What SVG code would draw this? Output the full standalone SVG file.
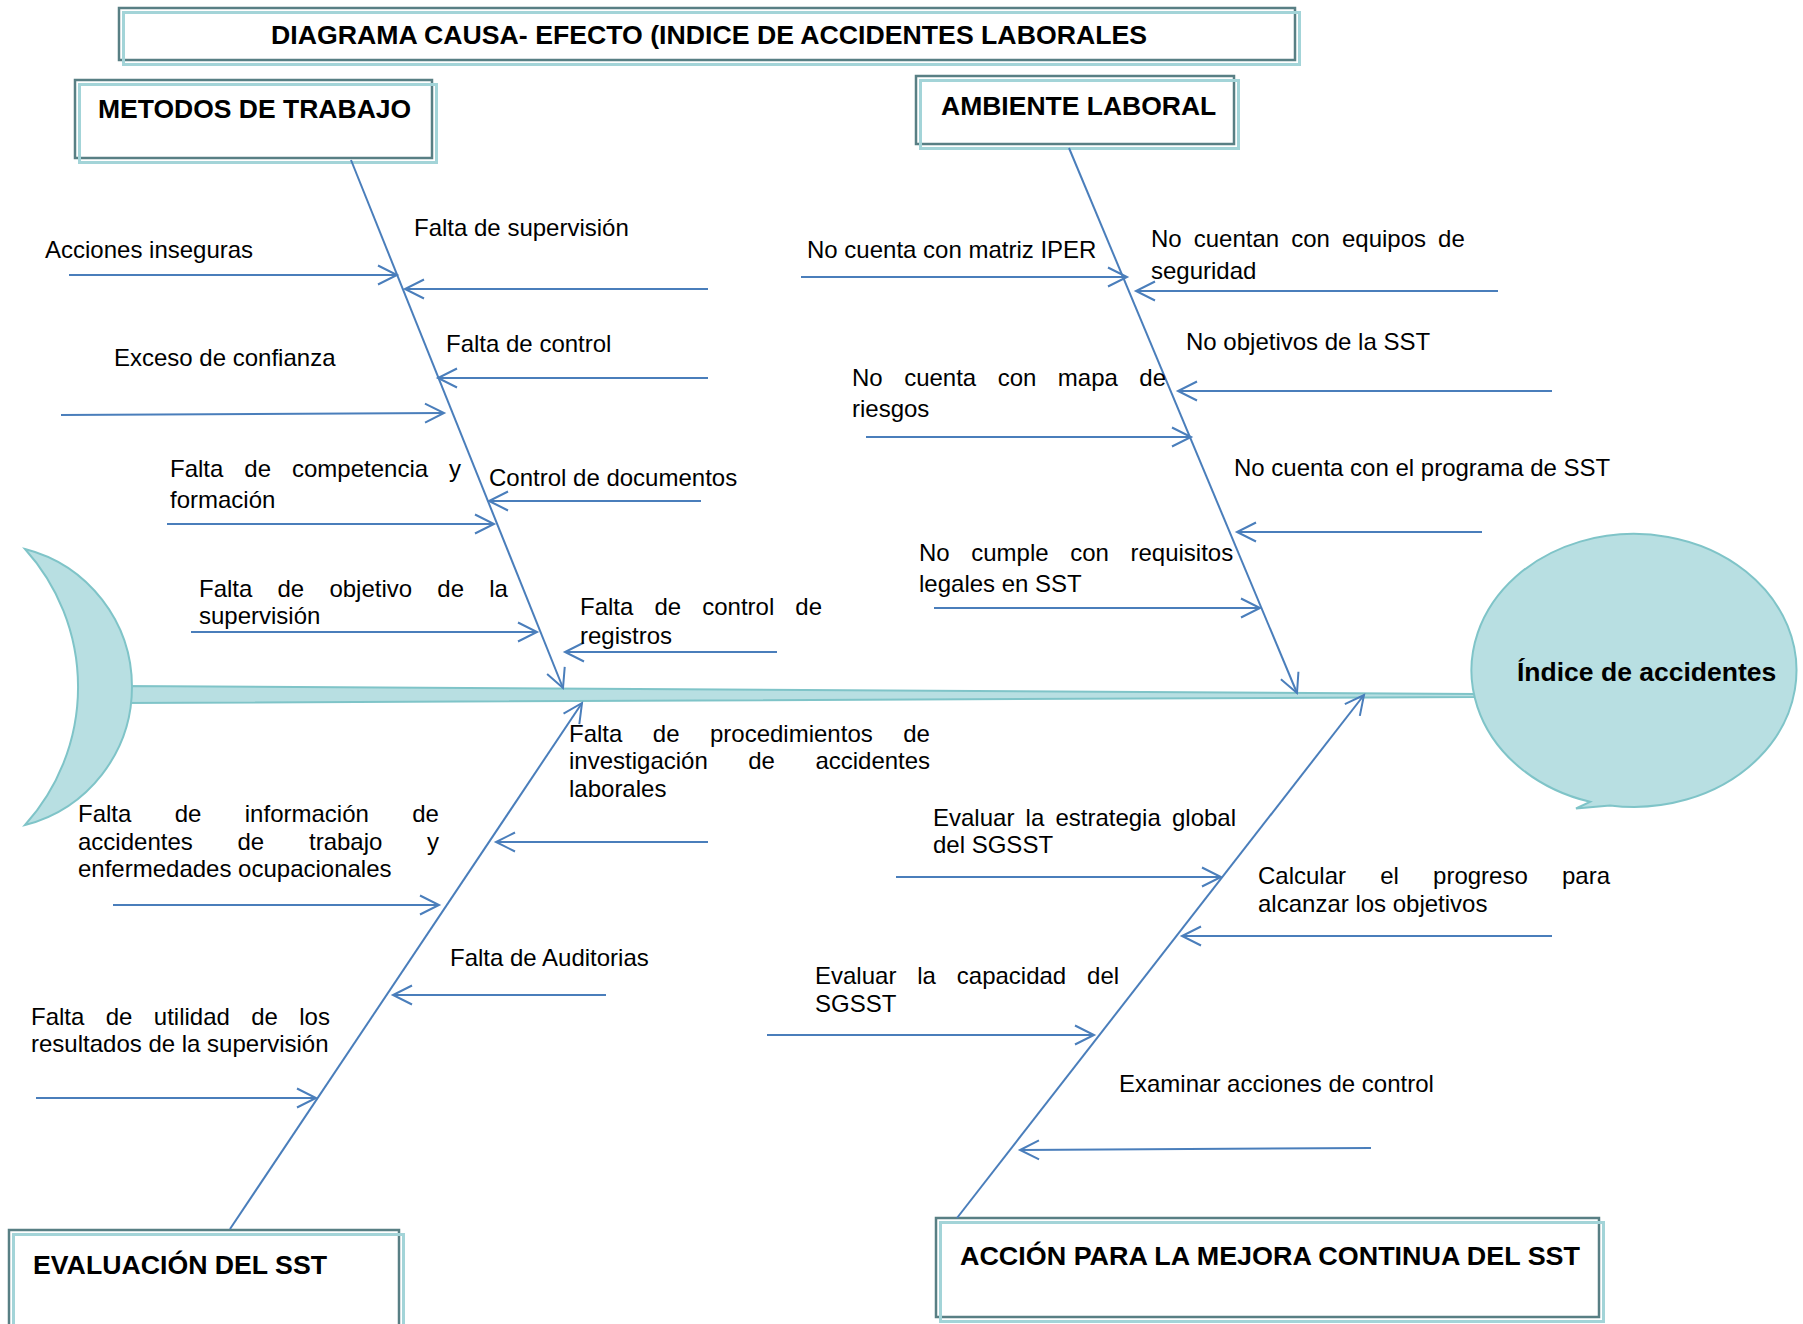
<svg xmlns="http://www.w3.org/2000/svg" width="1803" height="1324" viewBox="0 0 1803 1324">
  <style>
    .box { fill: #ffffff; stroke: #587f84; stroke-width: 2.5; }
    .boxsh { fill: none; stroke: #a3d4d8; stroke-width: 3; }
    .hdr { font-family: "Liberation Sans", Arial, sans-serif; font-size: 26.5px; font-weight: bold; fill: #000000; }
    .lbl { font-family: "Liberation Sans", Arial, sans-serif; font-size: 24px; fill: #000000; }
    .fish { fill: #b8dfe2; stroke: #7fc4c8; stroke-width: 2; }
    .bone { fill: none; stroke: #4a7ebb; stroke-width: 2; marker-end: url(#ah); }
  </style>
  <defs>
    <marker id="ah" markerUnits="userSpaceOnUse" markerWidth="30" markerHeight="30" viewBox="-24 -15 30 30" refX="0" refY="0" orient="auto" overflow="visible">
      <path d="M-19,-9.5 L0,0 L-19,9.5" fill="none" stroke="#4a7ebb" stroke-width="2"/>
    </marker>
  </defs>
  <rect width="1803" height="1324" fill="#ffffff"/>

  <!-- spine of the fish -->
  <g id="espina">
    <path class="fish" d="M120,686 L1475,694 L1475,697 L120,703 Z"/>
  </g>

  <!-- tail -->
  <g id="cola">
    <path class="fish" d="M25,549 A142.5,142.5 0 0 1 25,825 A206,206 0 0 0 25,549 Z"/>
  </g>

  <!-- head: effect -->
  <g id="efecto">
    <path class="fish" d="M1590,801.8 L1576,808.5 L1610,805.4 A162.5,136.5 0 1 0 1590,801.8 Z"/>
    <text class="hdr" x="1517" y="681">Índice de accidentes</text>
  </g>

  <!-- title -->
  <g id="titulo">
    <rect class="box" x="119" y="8" width="1176" height="52"/>
    <rect class="boxsh" x="123.5" y="12.5" width="1176" height="52"/>
    <text class="hdr" x="271" y="44" textLength="876" lengthAdjust="spacingAndGlyphs">DIAGRAMA CAUSA- EFECTO (INDICE DE ACCIDENTES LABORALES</text>
  </g>

  <!-- category boxes -->
  <g id="metodos">
    <rect class="box" x="75" y="80" width="357" height="78"/>
    <rect class="boxsh" x="79.5" y="84.5" width="357" height="78"/>
    <text class="hdr" x="98" y="118">METODOS DE TRABAJO</text>
  </g>
  <g id="ambiente">
    <rect class="box" x="916" y="76" width="318" height="68"/>
    <rect class="boxsh" x="920.5" y="80.5" width="318" height="68"/>
    <text class="hdr" x="941" y="115">AMBIENTE LABORAL</text>
  </g>
  <g id="evaluacion">
    <rect class="box" x="9" y="1230" width="390" height="110"/>
    <rect class="boxsh" x="13.5" y="1234.5" width="390" height="110"/>
    <text class="hdr" x="33" y="1274" textLength="294" lengthAdjust="spacingAndGlyphs">EVALUACIÓN DEL SST</text>
  </g>
  <g id="accion">
    <rect class="box" x="936" y="1218" width="663" height="99"/>
    <rect class="boxsh" x="940.5" y="1222.5" width="663" height="99"/>
    <text class="hdr" x="960" y="1265" textLength="620" lengthAdjust="spacingAndGlyphs">ACCIÓN PARA LA MEJORA CONTINUA DEL SST</text>
  </g>

  <!-- bones and cause arrows -->
  <g id="conectores">
    <line class="bone" x1="351" y1="160" x2="563" y2="688"/>
    <line class="bone" x1="1069" y1="148" x2="1297" y2="693"/>
    <line class="bone" x1="230" y1="1229" x2="582" y2="703"/>
    <line class="bone" x1="957" y1="1218" x2="1364" y2="695"/>

    <line class="bone" x1="69" y1="275" x2="397" y2="275"/>
    <line class="bone" x1="708" y1="289" x2="405" y2="289"/>
    <line class="bone" x1="61" y1="415" x2="444" y2="413"/>
    <line class="bone" x1="708" y1="378" x2="438" y2="378"/>
    <line class="bone" x1="167" y1="524" x2="494" y2="524"/>
    <line class="bone" x1="701" y1="501" x2="489" y2="501"/>
    <line class="bone" x1="191" y1="632" x2="537" y2="632"/>
    <line class="bone" x1="777" y1="652" x2="565" y2="652"/>

    <line class="bone" x1="801" y1="277" x2="1127" y2="277"/>
    <line class="bone" x1="1498" y1="291" x2="1136" y2="291"/>
    <line class="bone" x1="1552" y1="391" x2="1178" y2="391"/>
    <line class="bone" x1="866" y1="437" x2="1191" y2="437"/>
    <line class="bone" x1="1482" y1="532" x2="1237" y2="532"/>
    <line class="bone" x1="934" y1="608" x2="1260" y2="608"/>

    <line class="bone" x1="708" y1="842" x2="496" y2="842"/>
    <line class="bone" x1="113" y1="905" x2="439" y2="905"/>
    <line class="bone" x1="606" y1="995" x2="393" y2="995"/>
    <line class="bone" x1="36" y1="1098" x2="316" y2="1098"/>

    <line class="bone" x1="896" y1="877" x2="1221" y2="877"/>
    <line class="bone" x1="1552" y1="936" x2="1182" y2="936"/>
    <line class="bone" x1="767" y1="1035" x2="1094" y2="1035"/>
    <line class="bone" x1="1371" y1="1148" x2="1020" y2="1150"/>
  </g>

  <!-- causes: work methods -->
  <g id="c-acciones"><text class="lbl" x="45" y="258">Acciones inseguras</text></g>
  <g id="c-supervision"><text class="lbl" x="414" y="236">Falta de supervisión</text></g>
  <g id="c-confianza"><text class="lbl" x="114" y="366">Exceso de confianza</text></g>
  <g id="c-control"><text class="lbl" x="446" y="352">Falta de control</text></g>
  <g id="c-competencia"><text class="lbl" x="170" y="477" word-spacing="14.3">Falta de competencia y</text><text class="lbl" x="170" y="508">formación</text></g>
  <g id="c-documentos"><text class="lbl" x="489" y="486">Control de documentos</text></g>
  <g id="c-objetivo"><text class="lbl" x="199" y="597" word-spacing="18.5">Falta de objetivo de la</text><text class="lbl" x="199" y="624">supervisión</text></g>
  <g id="c-registros"><text class="lbl" x="580" y="615" word-spacing="14.4">Falta de control de</text><text class="lbl" x="580" y="644">registros</text></g>

  <!-- causes: work environment -->
  <g id="c-iper"><text class="lbl" x="807" y="258">No cuenta con matriz IPER</text></g>
  <g id="c-equipos"><text class="lbl" x="1151" y="247" word-spacing="5.4">No cuentan con equipos de</text><text class="lbl" x="1151" y="279">seguridad</text></g>
  <g id="c-objetivos-sst"><text class="lbl" x="1186" y="350">No objetivos de la SST</text></g>
  <g id="c-mapa"><text class="lbl" x="852" y="386" word-spacing="14.8">No cuenta con mapa de</text><text class="lbl" x="852" y="417">riesgos</text></g>
  <g id="c-programa"><text class="lbl" x="1234" y="476">No cuenta con el programa de SST</text></g>
  <g id="c-legales"><text class="lbl" x="919" y="561" word-spacing="14.9">No cumple con requisitos</text><text class="lbl" x="919" y="592">legales en SST</text></g>

  <!-- causes: SST evaluation -->
  <g id="c-procedimientos"><text class="lbl" x="569" y="742" word-spacing="23.8">Falta de procedimientos de</text><text class="lbl" x="569" y="769" word-spacing="33.8">investigación de accidentes</text><text class="lbl" x="569" y="797">laborales</text></g>
  <g id="c-informacion"><text class="lbl" x="78" y="822" word-spacing="36.7">Falta de información de</text><text class="lbl" x="78" y="850" word-spacing="38.1">accidentes de trabajo y</text><text class="lbl" x="78" y="877">enfermedades ocupacionales</text></g>
  <g id="c-auditorias"><text class="lbl" x="450" y="966">Falta de Auditorias</text></g>
  <g id="c-utilidad"><text class="lbl" x="31" y="1025" word-spacing="14.7">Falta de utilidad de los</text><text class="lbl" x="31" y="1052">resultados de la supervisión</text></g>

  <!-- causes: continuous improvement -->
  <g id="c-estrategia"><text class="lbl" x="933" y="826" word-spacing="4.5">Evaluar la estrategia global</text><text class="lbl" x="933" y="853">del SGSST</text></g>
  <g id="c-progreso"><text class="lbl" x="1258" y="884" word-spacing="27.5">Calcular el progreso para</text><text class="lbl" x="1258" y="912">alcanzar los objetivos</text></g>
  <g id="c-capacidad"><text class="lbl" x="815" y="984" word-spacing="14.2">Evaluar la capacidad del</text><text class="lbl" x="815" y="1012">SGSST</text></g>
  <g id="c-examinar"><text class="lbl" x="1119" y="1092">Examinar acciones de control</text></g>
</svg>
